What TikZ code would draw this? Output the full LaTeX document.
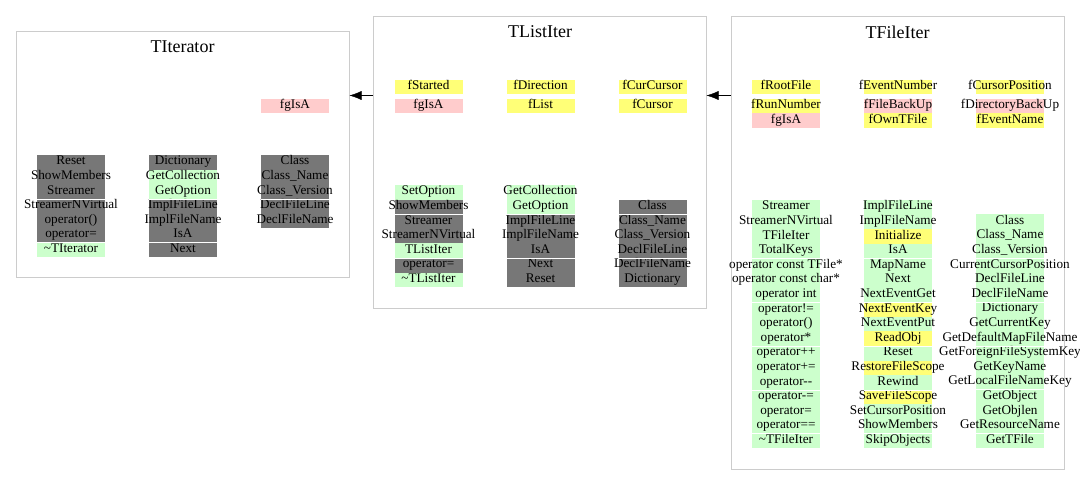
\documentclass[tikz,border=0pt]{standalone}
\usepackage{fontspec}
\setmainfont{Liberation Serif}
\usepackage{tikz}
\usetikzlibrary{arrows.meta}
\tikzset{>={Latex[width=9pt,length=12pt]}}

\definecolor{cgray}{HTML}{777777}
\definecolor{cgreen}{HTML}{CCFFCC}
\definecolor{cyellow}{HTML}{FFFF77}
\definecolor{cpink}{HTML}{FFCCCC}
\definecolor{cframe}{HTML}{CCCCCC}

\tikzset{
  classbox/.style={draw=cframe, line width=1pt, inner sep=0pt},
  classname/.style={inner sep=0pt, font=\fontsize{18}{20}\selectfont},
  cell/.style={inner sep=0pt, minimum height=14.6pt, text height=9pt, text depth=4pt,
    font=\fontsize{13.2}{14}\selectfont},
  sepline/.style={draw=white, line width=0.8pt},
}
\newcommand\cellbox[1]{\makebox[68pt]{#1}}

\begin{document}
\begin{tikzpicture}[x=1pt, y=-1pt]

  \newcommand\RowH{14.6};
  \useasboundingbox (0,0) rectangle (1080,496);

  %% class frames
  \node[classbox, minimum width=333pt, minimum height=246pt] (iter) at (182.5,154) {};
  \node[classname] (iter-name) at (182.5,47) {TIterator};
  \node[classbox, minimum width=333pt, minimum height=292pt] (listiter) at (539.5,162) {};
  \node[classname] (listiter-name) at (540,32) {TListIter};
  \node[classbox, minimum width=333pt, minimum height=453pt] (fileiter) at (897.5,242.5) {};
  \node[classname] (fileiter-name) at (897.5,32) {TFileIter};

  %% TIterator
  \node[cell, fill=cpink] (it-d1) at (295,106) {\cellbox{fgIsA}};
  \foreach \txt/\clr [count=\i] in {Reset/cgray, ShowMembers/cgray, Streamer/cgray,
      StreamerNVirtual/cgray, operator()/cgray, operator=/cgray, \textasciitilde TIterator/cgreen}
    \node[cell, fill=\clr] (it-a\i) at (71,{155+\RowH*(\i-0.5)}) {\cellbox{\txt}};
  \foreach \txt/\clr [count=\i] in {Dictionary/cgray, GetCollection/cgreen, GetOption/cgreen,
      ImplFileLine/cgray, ImplFileName/cgray, IsA/cgray, Next/cgray}
    \node[cell, fill=\clr] (it-b\i) at (183,{155+\RowH*(\i-0.5)}) {\cellbox{\txt}};
  \foreach \txt [count=\i] in {Class, Class\_Name, Class\_Version, DeclFileLine, DeclFileName}
    \node[cell, fill=cgray] (it-c\i) at (295,{155+\RowH*(\i-0.5)}) {\cellbox{\txt}};
  \foreach \n in {it-a3, it-a6, it-b3, it-b6, it-c3}
    \draw[sepline] (\n.south west) -- (\n.south east);

  %% TListIter
  \node[cell, fill=cyellow] (li-d1) at (428.5,87) {\cellbox{fStarted}};
  \node[cell, fill=cpink] (li-d2) at (428.5,106) {\cellbox{fgIsA}};
  \node[cell, fill=cyellow] (li-d3) at (540.5,87) {\cellbox{fDirection}};
  \node[cell, fill=cyellow] (li-d4) at (540.5,106) {\cellbox{fList}};
  \node[cell, fill=cyellow] (li-d5) at (652.5,87) {\cellbox{fCurCursor}};
  \node[cell, fill=cyellow] (li-d6) at (652.5,106) {\cellbox{fCursor}};
  \foreach \txt/\clr [count=\i] in {SetOption/cgreen, ShowMembers/cgray, Streamer/cgray,
      StreamerNVirtual/cgray, TListIter/cgreen, operator=/cgray, \textasciitilde TListIter/cgreen}
    \node[cell, fill=\clr] (li-a\i) at (428.5,{185+\RowH*(\i-0.5)}) {\cellbox{\txt}};
  \foreach \txt/\clr [count=\i] in {GetCollection/cgreen, GetOption/cgreen, ImplFileLine/cgray,
      ImplFileName/cgray, IsA/cgray, Next/cgray, Reset/cgray}
    \node[cell, fill=\clr] (li-b\i) at (540.5,{185+\RowH*(\i-0.5)}) {\cellbox{\txt}};
  \foreach \txt [count=\i] in {Class, Class\_Name, Class\_Version, DeclFileLine, DeclFileName, Dictionary}
    \node[cell, fill=cgray] (li-c\i) at (652.5,{199.6+\RowH*(\i-0.5)}) {\cellbox{\txt}};
  \foreach \n in {li-a2, li-a5, li-b2, li-b5, li-c1, li-c4}
    \draw[sepline] (\n.south west) -- (\n.south east);

  %% TFileIter
  \node[cell, fill=cyellow] (fi-d1) at (786,87) {\cellbox{fRootFile}};
  \node[cell, fill=cyellow] (fi-d2) at (786,106) {\cellbox{fRunNumber}};
  \node[cell, fill=cpink] (fi-d3) at (786,120.6) {\cellbox{fgIsA}};
  \node[cell, fill=cyellow] (fi-d4) at (898,87) {\cellbox{fEventNumber}};
  \node[cell, fill=cpink] (fi-d5) at (898,106) {\cellbox{fFileBackUp}};
  \node[cell, fill=cyellow] (fi-d6) at (898,120.6) {\cellbox{fOwnTFile}};
  \node[cell, fill=cyellow] (fi-d7) at (1010,87) {\cellbox{fCursorPosition}};
  \node[cell, fill=cpink] (fi-d8) at (1010,106) {\cellbox{fDirectoryBackUp}};
  \node[cell, fill=cyellow] (fi-d9) at (1010,120.6) {\cellbox{fEventName}};
  \foreach \txt [count=\i] in {Streamer, StreamerNVirtual, TFileIter, TotalKeys,
      operator const TFile*, operator const char*, operator int, operator!=, operator(),
      operator*, operator++, operator+=, operator-{}-, operator-=, operator=, operator==,
      \textasciitilde TFileIter}
    \node[cell, fill=cgreen] (fi-a\i) at (786,{200+\RowH*(\i-0.5)}) {\cellbox{\txt}};
  \foreach \txt/\clr [count=\i] in {ImplFileLine/cgreen, ImplFileName/cgreen, Initialize/cyellow,
      IsA/cgreen, MapName/cgreen, Next/cgreen, NextEventGet/cgreen, NextEventKey/cyellow,
      NextEventPut/cgreen, ReadObj/cyellow, Reset/cgreen, RestoreFileScope/cyellow,
      Rewind/cgreen, SaveFileScope/cyellow, SetCursorPosition/cgreen, ShowMembers/cgreen,
      SkipObjects/cgreen}
    \node[cell, fill=\clr] (fi-b\i) at (898,{200+\RowH*(\i-0.5)}) {\cellbox{\txt}};
  \foreach \txt [count=\i] in {Class, Class\_Name, Class\_Version, CurrentCursorPosition,
      DeclFileLine, DeclFileName, Dictionary, GetCurrentKey, GetDefaultMapFileName,
      GetForeignFileSystemKey, GetKeyName, GetLocalFileNameKey, GetObject, GetObjlen,
      GetResourceName, GetTFile}
    \node[cell, fill=cgreen] (fi-c\i) at (1010,{214.4+\RowH*(\i-0.5)}) {\cellbox{\txt}};
  \foreach \n in {fi-a4, fi-a7, fi-a10, fi-a13, fi-a16, fi-b4, fi-b7, fi-b10, fi-b13, fi-b16,
      fi-c3, fi-c6, fi-c9, fi-c12, fi-c15}
    \draw[sepline] (\n.south west) -- (\n.south east);

  %% inheritance
  \draw[->] ([yshift=-80pt]listiter.north west) -- ([yshift=-80pt]listiter.north west -| iter.east); % TListIter->TIterator
  \draw[->] ([yshift=-80pt]fileiter.north west) -- ([yshift=-80pt]fileiter.north west -| listiter.east); % TFileIter->TListIter

\end{tikzpicture}
\end{document}
